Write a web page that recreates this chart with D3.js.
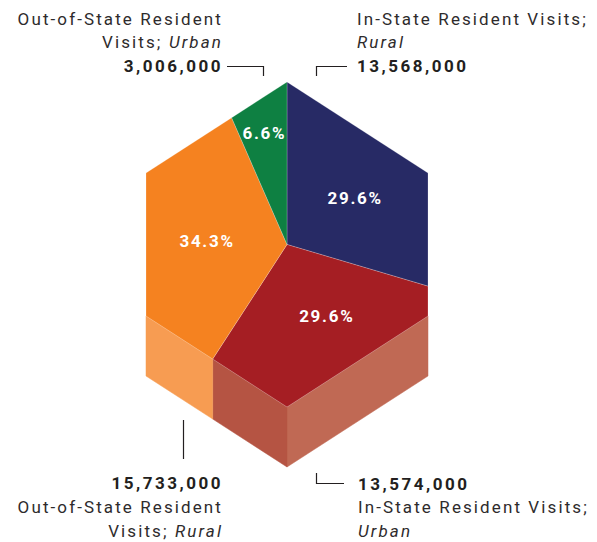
<!DOCTYPE html>
<html>
<head>
<meta charset="utf-8">
<script src="https://cdn.jsdelivr.net/npm/d3@7"></script>
<style>
  body { margin: 0; background: #fff; }
  text { font-family: Roboto, "DejaVu Sans", sans-serif; }
</style>
</head>
<body>
<div id="chart"></div>
<script>
// data
const groups = ["In-State", "In-State", "Out-of-State", "Out-of-State"];
const areas = ["Rural", "Urban", "Rural", "Urban"];
const visits = [13568000, 13574000, 15733000, 3006000];

// styles
const TOP_COLORS = ["#272a65", "#a51e23", "#f58220", "#0e8042"];
const SIDE_LEFT = ["#4f5280", "#b55443", "#f79c52", "#4a9a6a"];
const SIDE_RIGHT = ["#5a5d8a", "#c06954", "#f8a565", "#56a477"];
const INK = "#231f20";

const WIDTH = 597, HEIGHT = 542;

// hexagon geometry (top face), extruded down by DEPTH
const CX = 287, CY = 244.5;
const HALF_H = 162.5, SIDE_DX = 141, SIDE_DY = 71.5;
const DEPTH = 60;

const hex = [
  [CX, CY - HALF_H],
  [CX + SIDE_DX, CY - SIDE_DY],
  [CX + SIDE_DX, CY + SIDE_DY],
  [CX, CY + HALF_H],
  [CX - SIDE_DX, CY + SIDE_DY],
  [CX - SIDE_DX, CY - SIDE_DY]
];

// label layout for each slice
const LABELS = [
  { x: 357, anchor: "start", numberFirst: false, ys: [25, 48, 72] },
  { x: 358, anchor: "start", numberFirst: true, ys: [490, 513, 537] },
  { x: 222, anchor: "end", numberFirst: true, ys: [489, 513, 537] },
  { x: 222, anchor: "end", numberFirst: false, ys: [25, 48, 72] }
];
const LEADERS = [
  "M316.5,76V66.5H347",
  "M316.5,473V483.5H344",
  "M183.5,420V459",
  "M227,66.5H263.5V76"
];
const PCT_NUDGE = [[1, 3.5], [9, -7], [-1, 2], [-5, -15]];
const NUM_SPACING = 2.5, TXT_SPACING = 2.1;

const svg = d3.select("#chart").append("svg")
  .attr("width", WIDTH)
  .attr("height", HEIGHT);

const slices = d3.pie().sort(null).value(i => visits[i])(d3.range(visits.length));
const total = d3.sum(visits);
const fmtPct = d3.format(".1%");
const fmtNum = d3.format(",");

function angleOf(p) {
  let a = Math.atan2(p[0] - CX, -(p[1] - CY));
  if (a < 0) a += 2 * Math.PI;
  return a;
}

function hitHex(a) {
  const dx = Math.sin(a), dy = -Math.cos(a);
  for (let i = 0; i < hex.length; i++) {
    const p = hex[i], q = hex[(i + 1) % hex.length];
    const ex = q[0] - p[0], ey = q[1] - p[1];
    const den = dx * ey - dy * ex;
    if (Math.abs(den) < 1e-9) continue;
    const wx = p[0] - CX, wy = p[1] - CY;
    const t = (wx * ey - wy * ex) / den;
    const s = (wx * dy - wy * dx) / den;
    if (t > 0 && s >= -1e-9 && s <= 1 + 1e-9) return [CX + t * dx, CY + t * dy];
  }
  return [CX, CY];
}

const polys = slices.map(s => {
  const outer = [hitHex(s.startAngle)];
  hex.map(p => ({ p, a: angleOf(p) }))
    .filter(v => v.a > s.startAngle + 1e-6 && v.a < s.endAngle - 1e-6)
    .sort((u, v) => u.a - v.a)
    .forEach(v => outer.push(v.p));
  outer.push(hitHex(s.endAngle));
  return { i: s.data, outer, top: [[CX, CY]].concat(outer) };
});

const line = d3.line();

// side faces: only the downward facing edges of the top face show
const sides = [];
polys.forEach(d => {
  for (let k = 0; k < d.outer.length - 1; k++) {
    const p = d.outer[k], q = d.outer[k + 1];
    const ex = q[0] - p[0], ey = q[1] - p[1];
    if (ex < -1) {
      sides.push({
        i: d.i,
        face: ey < 0 ? "left" : "right",
        pts: [p, q, [q[0], q[1] + DEPTH], [p[0], p[1] + DEPTH]]
      });
    }
  }
});

svg.append("g").selectAll("path")
  .data(sides)
  .join("path")
  .attr("d", d => line(d.pts) + "Z")
  .attr("fill", d => d.face === "left" ? SIDE_LEFT[d.i] : SIDE_RIGHT[d.i])
  .attr("stroke", d => d.face === "left" ? SIDE_LEFT[d.i] : SIDE_RIGHT[d.i])
  .attr("stroke-width", 0.5);

svg.append("g").selectAll("path")
  .data(polys)
  .join("path")
  .attr("d", d => line(d.top) + "Z")
  .attr("fill", d => TOP_COLORS[d.i])
  .attr("stroke", "#ffffff")
  .attr("stroke-opacity", 0.35)
  .attr("stroke-width", 0.6);

// percent labels
svg.append("g").selectAll("text")
  .data(polys)
  .join("text")
  .attr("x", d => d3.polygonCentroid(d.top)[0] + PCT_NUDGE[d.i][0] + 0.85)
  .attr("y", d => d3.polygonCentroid(d.top)[1] + PCT_NUDGE[d.i][1])
  .attr("dy", "0.36em")
  .attr("text-anchor", "middle")
  .attr("fill", "#fff")
  .style("font-size", "17px")
  .style("font-weight", "700")
  .style("letter-spacing", "1.7px")
  .text(d => fmtPct(visits[d.i] / total));

// leader lines
svg.append("g").selectAll("path")
  .data(LEADERS)
  .join("path")
  .attr("d", d => d)
  .attr("fill", "none")
  .attr("stroke", INK)
  .attr("stroke-width", 1.2);

// callout labels
const callouts = svg.append("g").selectAll("g")
  .data(d3.range(visits.length))
  .join("g");

callouts.each(function (i) {
  const g = d3.select(this);
  const L = LABELS[i];
  const inState = groups[i] === "In-State";
  const line1 = inState ? `${groups[i]} Resident Visits;` : `${groups[i]} Resident`;
  const prefix = inState ? "" : "Visits; ";
  const rows = L.numberFirst ? ["num", "l1", "l2"] : ["l1", "l2", "num"];

  rows.forEach((r, k) => {
    const sp = r === "num" ? NUM_SPACING : TXT_SPACING;
    // letter-spacing trails the last glyph, nudge end-anchored text a bit right
    const x = L.anchor === "end" ? L.x + 1 : L.x;
    const t = g.append("text")
      .attr("x", x)
      .attr("y", L.ys[k])
      .attr("text-anchor", L.anchor)
      .attr("fill", r === "num" ? INK : "#2e2b2c")
      .style("font-size", "17px")
      .style("letter-spacing", sp + "px");
    if (r === "num") {
      t.style("font-weight", "700").text(fmtNum(visits[i]));
    } else if (r === "l1") {
      t.text(line1);
    } else {
      if (prefix) t.append("tspan").text(prefix);
      t.append("tspan").style("font-style", "italic").text(areas[i]);
    }
  });
});
</script>
</body>
</html>
